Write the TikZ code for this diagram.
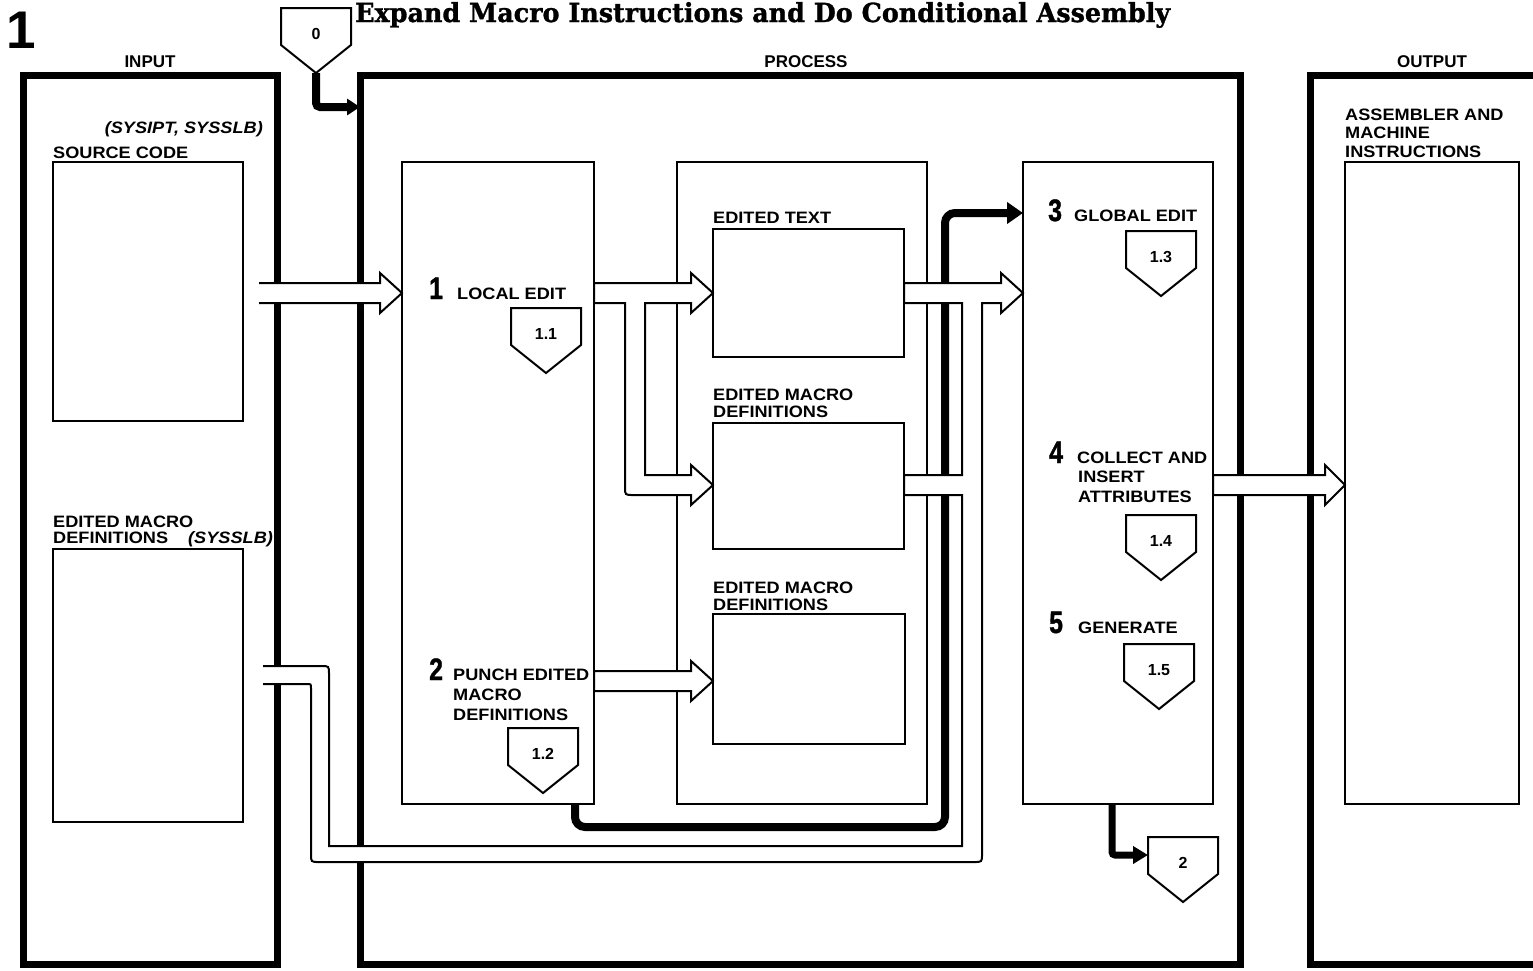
\documentclass[tikz,border=0pt]{standalone}
\usepackage{graphicx}
\usepackage{fontspec}
\setmainfont{Liberation Sans}
\newfontfamily\labfont[FakeStretch=1.1]{Liberation Sans}
\newfontfamily\digfont[FakeStretch=0.8,FakeBold=1.2]{Liberation Sans}
\newfontfamily\ttlfont[FakeBold=1.2]{DejaVu Serif}
\usetikzlibrary{arrows.meta}
\newcommand{\lbsz}{\labfont\bfseries\fontsize{16.5}{19}\selectfont}
\newcommand{\lbit}{\labfont\bfseries\itshape\fontsize{16.5}{19}\selectfont}
\newcommand{\hdsz}{\bfseries\fontsize{17}{19}\selectfont}
\newcommand{\dgsz}{\digfont\bfseries\fontsize{31}{32}\selectfont}
\newcommand{\pnsz}{\bfseries\fontsize{16}{17}\selectfont}
\newcommand{\pentagon}[4]{%
  \draw[pent] (#2,#3) -- ++(70,0) -- ++(0,37) -- ++(-35,28) -- ++(-35,-28) -- cycle;
  \node[pnum] (#1) at (#2+35,#3+26) {#4};
  \coordinate (#1tip) at (#2+35,#3+65);
  \coordinate (#1w) at (#2,#3+18);}
\begin{document}
\begin{tikzpicture}[x=1pt,y=-1pt,
  frame/.style={draw, line width=7pt, anchor=north west, inner sep=0pt, outer sep=0pt},
  box/.style={draw, line width=2pt, anchor=north west, inner sep=0pt, outer sep=0pt},
  lbl/.style={anchor=base west, inner sep=0pt, font=\lbsz},
  hdr/.style={anchor=base, inner sep=0pt, font=\hdsz},
  dig/.style={anchor=base west, inner sep=0pt, font=\dgsz},
  pnum/.style={inner sep=0pt, font=\pnsz},
  pent/.style={draw, line width=2pt, fill=white, line join=miter},
  wide/.style={line width=2pt, line join=miter},
  heavy/.style={line width=8pt, rounded corners=10pt},
]
\fill[white] (0,0) rectangle (1533,970);
\useasboundingbox (0,0) rectangle (1533,970);

% title and figure number
\node[anchor=base west, inner sep=0pt] (title) at (355,22)
  {\resizebox{815pt}{20pt}{\ttlfont\bfseries Expand Macro Instructions and Do Conditional Assembly}};
\node[anchor=base west, inner sep=0pt, font=\bfseries\fontsize{53}{53}\selectfont] (fignum) at (6,48) {1};

% headers
\node[hdr] (hin) at (150,67) {INPUT};
\node[hdr] (hproc) at (806,67) {PROCESS};
\node[hdr] (hout) at (1432,67) {OUTPUT};

% frames
\node[frame, minimum width=254pt, minimum height=889pt] (inframe) at (23,75) {};
\node[frame, minimum width=880pt, minimum height=889pt] (procframe) at (360,75) {};
\node[frame, minimum width=250pt, minimum height=889pt] (outframe) at (1310,75) {};

% boxes
\node[box, minimum width=190pt, minimum height=259pt] (srcbox) at (53,162) {};
\node[box, minimum width=190pt, minimum height=273pt] (macbox) at (53,549) {};
\node[box, minimum width=192pt, minimum height=642pt] (boxA) at (402,162) {};
\node[box, minimum width=250pt, minimum height=642pt] (boxB) at (677,162) {};
\node[box, minimum width=190pt, minimum height=642pt] (boxC) at (1023,162) {};
\node[box, minimum width=174pt, minimum height=642pt] (outbox) at (1345,162) {};
\node[box, minimum width=191pt, minimum height=128pt] (etext) at (713,229) {};
\node[box, minimum width=191pt, minimum height=126pt] (emac1) at (713,423) {};
\node[box, minimum width=192pt, minimum height=130pt] (emac2) at (713,614) {};

% pentagon 0 and its arrow
\pentagon{p0}{281}{8}{0}
\coordinate (c0) at (316,107);
\draw[line width=8pt, rounded corners=4pt, -{Triangle[length=13pt,width=16pt]}]
  (p0tip) -- (c0) -- (c0 -| procframe.west);

% heavy feedback line from LOCAL EDIT box to GLOBAL EDIT
\coordinate (fb1) at (575,827);
\coordinate (fb2) at (945,827);
\coordinate (fb3) at (945,213);
\draw[heavy, -{Triangle[length=16pt,width=21pt]}]
  (boxA.south -| fb1) -- (fb1) -- (fb2) -- (fb3) -- (fb3 -| boxC.west);

% wide arrow: source code -> local edit
\fill[white] (259,283) -- (380,283) -- (380,273) -- (402,293) -- (380,313) -- (380,303) -- (259,303) -- cycle;
\draw[wide] (259,283) -- (380,283) -- (380,273) -- (402,293) -- (380,313) -- (380,303) -- (259,303);

% wide arrow: local edit -> edited text, branch -> edited macro definitions
\filldraw[wide, fill=white] (594,283) -- (691,283) -- (691,273) -- (713,293) -- (691,313) -- (691,303)
  -- (645,303) -- (645,475) -- (691,475) -- (691,465) -- (713,485) -- (691,505) -- (691,495)
  -- (633,495) .. controls (625,495) .. (625,487) -- (625,303) -- (594,303) -- cycle;

% wide arrow: punch -> edited macro definitions
\filldraw[wide, fill=white] (594,671) -- (691,671) -- (691,661) -- (713,681) -- (691,701) -- (691,691) -- (594,691) -- cycle;

% wide composite arrow into GLOBAL EDIT
\fill[white] (263,684) -- (307,684) .. controls (311,684) .. (311,688) -- (311,854) .. controls (311,862) .. (319,862)
  -- (974,862) .. controls (982,862) .. (982,854) -- (982,303) -- (1001,303) -- (1001,313) -- (1023,293)
  -- (1001,273) -- (1001,283) -- (904,283) -- (904,303) -- (962,303) -- (962,475) -- (904,475)
  -- (904,495) -- (962,495) -- (962,846) -- (329,846) -- (329,674) .. controls (329,666) .. (321,666)
  -- (263,666) -- cycle;
\draw[wide] (263,684) -- (307,684) .. controls (311,684) .. (311,688) -- (311,854) .. controls (311,862) .. (319,862)
  -- (974,862) .. controls (982,862) .. (982,854) -- (982,303) -- (1001,303) -- (1001,313) -- (1023,293)
  -- (1001,273) -- (1001,283) -- (904,283) -- (904,303) -- (962,303) -- (962,475) -- (904,475)
  -- (904,495) -- (962,495) -- (962,846) -- (329,846) -- (329,674) .. controls (329,666) .. (321,666)
  -- (263,666);

% wide arrow: collect -> output
\filldraw[wide, fill=white] (1213,475) -- (1325,475) -- (1325,465) -- (1345,485) -- (1325,505) -- (1325,495) -- (1213,495) -- cycle;

% pentagons
\pentagon{p11}{511}{308}{1.1}
\pentagon{p12}{508}{728}{1.2}
\pentagon{p13}{1126}{231}{1.3}
\pentagon{p14}{1126}{515}{1.4}
\pentagon{p15}{1124}{644}{1.5}
\pentagon{p2}{1148}{837}{2}

% arrow to off-page connector 2
\coordinate (g1) at (1112,855);
\draw[line width=7pt, rounded corners=3pt, -{Triangle[length=15pt,width=17pt]}]
  (boxC.south -| g1) -- (g1) -- (g1 -| p2w);

% input labels
\node[anchor=base east, inner sep=0pt, font=\lbit] (sys1) at (263,133) {(SYSIPT, SYSSLB)};
\node[lbl] (srcl) at (53,158) {SOURCE CODE};
\node[lbl] (eml1) at (53,527) {EDITED MACRO};
\node[lbl] (eml2) at (53,543) {DEFINITIONS};
\node[anchor=base west, inner sep=0pt, font=\lbit] (sys2) at (188,543) {(SYSSLB)};

% middle column labels
\node[lbl] (etl) at (713,223) {EDITED TEXT};
\node[lbl] (m1a) at (713,400) {EDITED MACRO};
\node[lbl] (m1b) at (713,417) {DEFINITIONS};
\node[lbl] (m2a) at (713,593) {EDITED MACRO};
\node[lbl] (m2b) at (713,610) {DEFINITIONS};

% box A labels
\node[dig] (d1) at (429,299) {1};
\node[lbl] (t1) at (457,299) {LOCAL EDIT};
\node[dig] (d2) at (429,680) {2};
\node[lbl] (t2a) at (453,680) {PUNCH EDITED};
\node[lbl] (t2b) at (453,700) {MACRO};
\node[lbl] (t2c) at (453,720) {DEFINITIONS};

% box C labels
\node[dig] (d3) at (1048,221) {3};
\node[lbl] (t3) at (1074,221) {GLOBAL EDIT};
\node[dig] (d4) at (1049,463) {4};
\node[lbl] (t4a) at (1077,463) {COLLECT AND};
\node[lbl] (t4b) at (1078,482) {INSERT};
\node[lbl] (t4c) at (1078,502) {ATTRIBUTES};
\node[dig] (d5) at (1049,633) {5};
\node[lbl] (t5) at (1078,633) {GENERATE};

% output labels
\node[lbl] (o1) at (1345,120) {ASSEMBLER AND};
\node[lbl] (o2) at (1345,138) {MACHINE};
\node[lbl] (o3) at (1345,157) {INSTRUCTIONS};
\end{tikzpicture}
\end{document}
